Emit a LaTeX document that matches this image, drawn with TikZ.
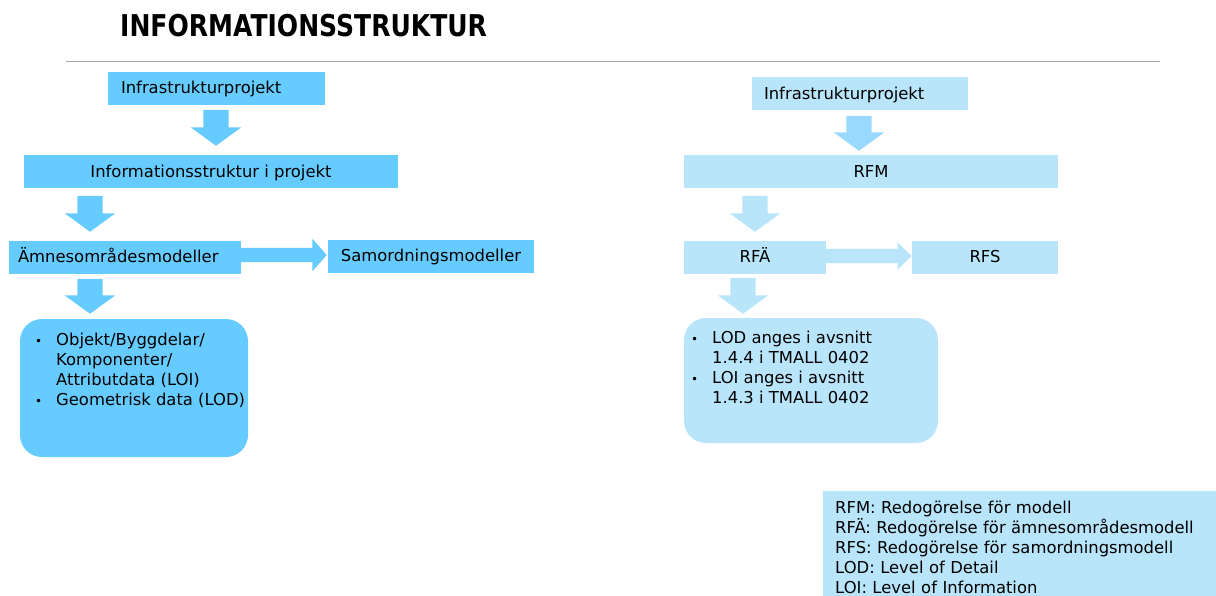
\documentclass[tikz,border=0pt]{standalone}
\usepackage{fontspec}
\setmainfont{DejaVu Sans}
\newfontfamily\titlefont{DejaVu Sans}[FakeStretch=0.835]
\usetikzlibrary{shapes.arrows,positioning,calc}
\definecolor{boxblue}{HTML}{66CCFF}
\definecolor{paleblue}{HTML}{B9E5FB}
\definecolor{arrblue}{HTML}{99D9FF}
\definecolor{rulegray}{HTML}{A6A6A6}
\newcommand\listdot{{\fontsize{12}{12}\selectfont\textbullet}}

\begin{document}
\begin{tikzpicture}[x=1pt,y=-1pt,every node/.style={font=\fontsize{16.4}{20}\selectfont},
 b/.style={inner sep=0pt,minimum height=33pt,text height=11.8pt,text depth=0pt},
 txt/.style={anchor=north west,inner sep=0pt,align=left},
 darr/.style={single arrow,rotate=-90,anchor=tip,inner xsep=0pt,inner ysep=12.5pt,minimum width=0pt,
   single arrow head extend=12.5pt,single arrow tip angle=108,minimum height=36pt},
 rarr/.style={single arrow,anchor=tip,inner xsep=0pt,inner ysep=7pt,minimum width=0pt,minimum height=86pt}]
\useasboundingbox (0,0) rectangle (1216,595);
% title and rule
\node[font={\titlefont\bfseries\fontsize{30}{34}\selectfont},anchor=base west,inner sep=0pt] (title) at (120,36.5) {INFORMATIONSSTRUKTUR};
\coordinate (ruleL) at (66,61.5);
\coordinate (ruleR) at (1160,61.5);
\draw[rulegray,line width=1pt] (ruleL)--(ruleR);
% left column
\node[b,fill=boxblue,minimum width=217pt,text width=191pt,align=left] (infL) at (216.5,88) {Infrastrukturprojekt};
\node[b,fill=boxblue,minimum width=374pt] (isp) at (211,171.5) {Informationsstruktur i projekt};
\node[b,fill=boxblue,minimum width=232pt,text width=214pt,align=left] (amL) at (125,257) {Ämnesområdesmodeller};
\node[b,fill=boxblue,minimum width=206pt] (samL) at (431,256) {Samordningsmodeller};
\node[fill=boxblue,rounded corners=22pt,minimum width=228pt,minimum height=138pt,inner sep=0pt] (listL) at (134,388) {};
\node[txt] (listLtxt) at (35,333) {\makebox[21pt][l]{\listdot}Objekt/Byggdelar/\\\hspace*{21pt}Komponenter/\\\hspace*{21pt}Attributdata (LOI)\\\makebox[21pt][l]{\listdot}Geometrisk data (LOD)};
\node[darr,fill=boxblue] (a1) at (216,146) {};
\node[darr,fill=boxblue] (a2) at (90,232) {};
\node[darr,fill=boxblue,minimum height=35pt] (a3) at (90,314) {};
\node[rarr,fill=boxblue,single arrow head extend=9pt,single arrow tip angle=97] (a4) at (327,255) {};
% right column
\node[b,fill=paleblue,minimum width=216pt,text width=192pt,align=left] (infR) at (860,93.5) {Infrastrukturprojekt};
\node[b,fill=paleblue,minimum width=374pt] (rfm) at (871,171.5) {RFM};
\node[b,fill=paleblue,minimum width=142pt] (rfa) at (755,257) {RFÄ};
\node[b,fill=paleblue,minimum width=146pt] (rfs) at (985,257) {RFS};
\node[fill=paleblue,rounded corners=22pt,minimum width=254pt,minimum height=125pt,inner sep=0pt] (listR) at (811,380.5) {};
\node[txt] (listRtxt) at (691,331) {\makebox[21pt][l]{\listdot}LOD anges i avsnitt\\\hspace*{21pt}1.4.4 i TMALL 0402\\\makebox[21pt][l]{\listdot}LOI anges i avsnitt\\\hspace*{21pt}1.4.3 i TMALL 0402};
\node[darr,fill=arrblue,minimum height=35pt] (a5) at (859,151) {};
\node[darr,fill=paleblue] (a6) at (755,232) {};
\node[darr,fill=paleblue] (a7) at (743,314) {};
\node[rarr,fill=paleblue,single arrow head extend=6.5pt,single arrow tip angle=88] (a8) at (912,256) {};
% legend
\node[txt,fill=paleblue,inner xsep=12pt,inner ysep=9.5pt,text width=372pt] (legend) at (823,491) {RFM: Redogörelse för modell\\RFÄ: Redogörelse för ämnesområdesmodell\\RFS: Redogörelse för samordningsmodell\\LOD: Level of Detail\\LOI: Level of Information};
\end{tikzpicture}
\end{document}
